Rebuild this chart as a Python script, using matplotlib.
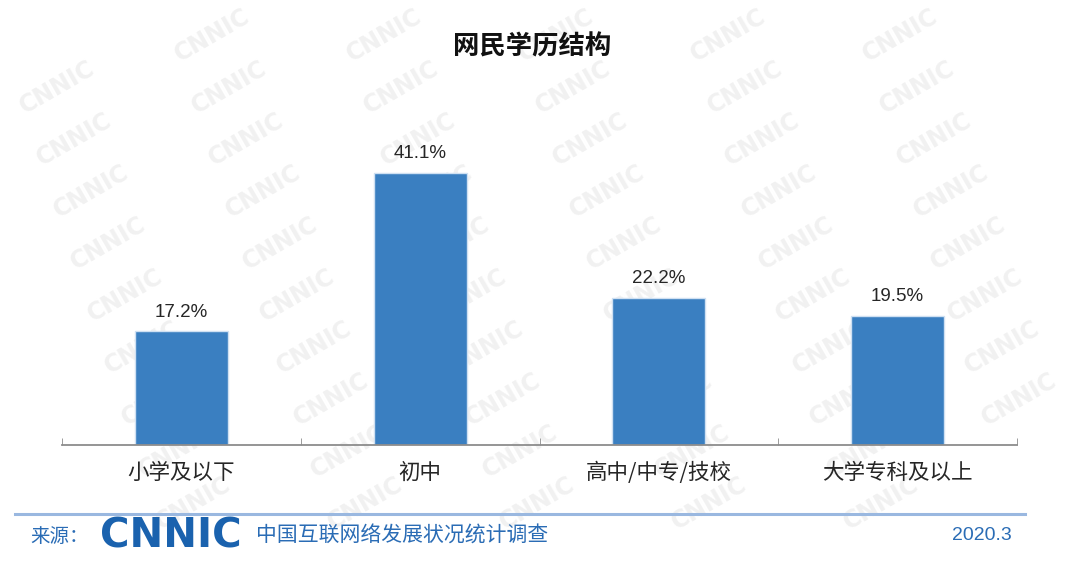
import matplotlib.pyplot as plt

plt.rcParams['font.family'] = ['Noto Sans CJK SC', 'DejaVu Sans']

categories = ['小学及以下', '初中', '高中/中专/技校', '大学专科及以上']
shares = [17.2, 41.1, 22.2, 19.5]
value_labels = ['17.2%', '41.1%', '22.2%', '19.5%']
title = '网民学历结构'
source_label = '来源：'
source_name = '中国互联网络发展状况统计调查'
report_date = '2020.3'

fig = plt.figure(figsize=(10.8, 5.77), dpi=100)

# faint diagonal watermark in a background axes
bg = fig.add_axes([0, 0, 1, 1], zorder=0)
bg.set_xlim(0, 1080)
bg.set_ylim(577, 0)
bg.axis('off')
for col in range(-3, 8):
    for row in range(11):
        x = col * 172 + row * 17 + 40
        y = row * 52 + 35
        if 55 < x < 1025 and 25 < y < 555:
            bg.text(x, y, 'CNNIC', fontsize=17, fontweight='bold', color='#f1f1f1',
                    rotation=30, ha='center', va='center', family='DejaVu Sans')

ax = fig.add_axes([62 / 1080, 132 / 577, 955 / 1080, 345 / 577], zorder=2)
ax.patch.set_alpha(0)
pos = range(len(categories))
bars = ax.bar(pos, shares, width=0.39, color='#3a7fc1', edgecolor='#cfe0f2', linewidth=1)
for b, lab in zip(bars, value_labels):
    ax.text(b.get_x() + b.get_width() / 2, b.get_height() + 1.6, lab, ha='center', va='bottom',
            fontsize=13.5, color='#262626', family='Liberation Sans')

ax.set_xlim(-0.5, len(categories) - 0.5)
ax.set_ylim(0, 52.1)
ax.set_xticks(list(pos))
ax.set_xticklabels(categories, fontsize=15.5, color='#262626')
ax.set_xticks([i - 0.5 for i in range(len(categories) + 1)], minor=True)
ax.tick_params(axis='x', which='major', length=0, pad=12)
ax.tick_params(axis='x', which='minor', length=5, direction='in', color='#8c8c8c')
ax.set_yticks([])
for s in ['top', 'right', 'left']:
    ax.spines[s].set_visible(False)
ax.spines['bottom'].set_color('#8c8c8c')
ax.spines['bottom'].set_linewidth(1.3)

fig.text(532 / 1080, 1 - 47 / 577, title, ha='center', va='center', fontsize=19,
         fontweight='bold', color='#111111', zorder=5)

# footer
fig.add_artist(plt.Line2D([15 / 1080, 1025 / 1080], [1 - 514 / 577] * 2, color='#9ab8e0', linewidth=2.2, zorder=5))
fig.text(30 / 1080, 1 - 536 / 577, source_label, ha='left', va='center', fontsize=14, color='#2a6cb5', zorder=5)
fig.text(100 / 1080, 1 - 536 / 577, 'CNNIC', ha='left', va='center', fontsize=29, fontweight='heavy',
         color='#1a62ae', family='DejaVu Sans', zorder=5)
fig.text(256 / 1080, 1 - 536 / 577, source_name, ha='left', va='center', fontsize=15, color='#2a6cb5', zorder=5)
fig.text(1012 / 1080, 1 - 536 / 577, report_date, ha='right', va='center', fontsize=14, color='#2a6cb5',
         family='Liberation Sans', zorder=5)

fig.savefig('out.png', dpi=100)
